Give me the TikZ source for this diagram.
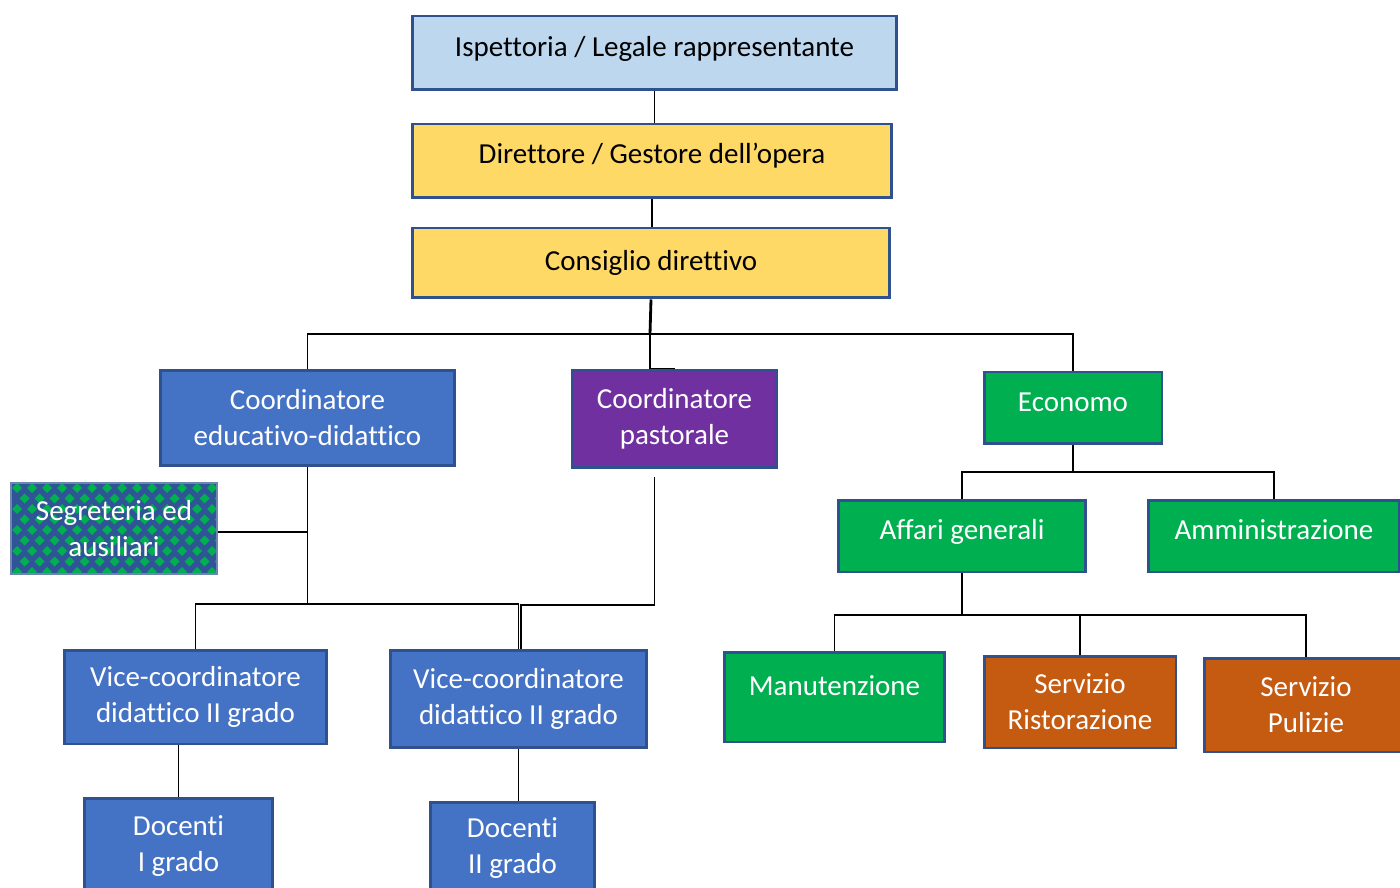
\documentclass[tikz,border=0pt]{standalone}
\usepackage{fontspec}
\setmainfont{Carlito}[Ligatures=NoCommon, Contextuals=NoAlternate]
\definecolor{myborder}{HTML}{2F528F}
\definecolor{mylightblue}{HTML}{BDD7EE}
\definecolor{myyellow}{HTML}{FFD966}
\definecolor{myblue}{HTML}{4472C4}
\definecolor{mypurple}{HTML}{7030A0}
\definecolor{mygreen}{HTML}{00B050}
\definecolor{myorange}{HTML}{C55A11}
\definecolor{segblue}{HTML}{2F5597}
\usetikzlibrary{positioning, calc}
\tikzset{
    box/.style={
           rectangle,
           draw=myborder, line width=1.7pt,
           inner sep=2pt,
           align=center,
           font=\fontsize{16.5}{20.5}\selectfont,
           },
    darkbox/.style={box, text=white},
    wh/.style 2 args={minimum width=#1cm, minimum height=#2cm},
    link/.style={draw=black, line width=0.8pt},
    checked/.style={
           path picture={
             \fill[segblue] (path picture bounding box.south west) rectangle (path picture bounding box.north east);
             \foreach \i in {0,...,14}
               \foreach \j in {0,...,9} {
                 \pgfmathsetmacro\dx{\i*15+mod(\j,2)*7.5+6}
                 \pgfmathsetmacro\dy{\j*10.5+5}
                 \fill[mygreen] ([shift={(\dx,\dy)}]path picture bounding box.north west)
                   +(-5,0) -- +(0,-5) -- +(5,0) -- +(0,5) -- cycle;
               }
           }},
}

\begin{document}
\begin{tikzpicture}[x=0.02cm, y=-0.02cm]
  \clip (0,0) rectangle (1400,888);
  % top of the chart
  \node[box, fill=mylightblue, wh={9.7}{1.48}, text depth=0.28cm] (insp) at (654.5, 53) {Ispettoria / Legale rappresentante};
  \node[box, fill=myyellow, wh={9.6}{1.48}, text depth=0.3cm]     (dir)  at (652, 161)  {Direttore / Gestore dell’opera};
  \node[box, fill=myyellow, wh={9.56}{1.4}]      (cons)   at (651, 263)  {Consiglio direttivo};
  % second level
  \node[darkbox, fill=myblue, wh={5.9}{1.92}]    (coored) at (307.5, 418) {Coordinatore\\educativo-didattico};
  \node[darkbox, fill=mypurple, wh={4.1}{1.96}]  (coorpa) at (674.5, 419) {Coordinatore\\pastorale};
  \node[darkbox, fill=mygreen, wh={3.56}{1.44}, text depth=0.24cm] (econ) at (1073, 408) {Economo};
  \node[darkbox, checked, draw=myborder!70, line width=1pt, wh={4.12}{1.82}] (segr) at (114, 528.5) {Segreteria ed\\ausiliari};
  \node[darkbox, fill=mygreen, wh={4.96}{1.44}, text depth=0.28cm] (affari) at (962, 536)  {Affari generali};
  \node[darkbox, fill=mygreen, wh={5.04}{1.44}, text depth=0.24cm] (amm)    at (1274, 536) {Amministrazione};
  % third level
  \node[darkbox, fill=myblue, wh={5.26}{1.88}]   (vice1)  at (195.5, 697) {Vice-coordinatore\\didattico II grado};
  \node[darkbox, fill=myblue, wh={5.14}{1.96}]   (vice2)  at (518.5, 699) {Vice-coordinatore\\didattico II grado};
  \node[darkbox, fill=mygreen, wh={4.42}{1.8}, text depth=0.44cm] (manut) at (834.5, 697) {Manutenzione};
  \node[darkbox, fill=myorange, wh={3.84}{1.84}] (risto)  at (1080, 702) {Servizio\\Ristorazione};
  \node[darkbox, fill=myorange, wh={4.08}{1.88}] (puliz)  at (1306, 705) {Servizio\\Pulizie};
  \node[darkbox, fill=myblue, wh={3.78}{1.92}]   (doc1)   at (178.5, 846) {Docenti\\I grado};
  \node[darkbox, fill=myblue, wh={3.3}{1.84}]    (doc2)   at (512.5, 848) {Docenti\\II grado};

  % junctions
  \coordinate (jc)  at (650, 334);
  \coordinate (je)  at (307.5, 604);
  \coordinate (jp)  at (654, 605);
  \coordinate (jec) at (1073, 472);
  \coordinate (jaf) at (962, 615);

  % connectors
  \draw[link] (insp.south) -- (insp.south |- dir.north);
  \draw[link] (dir.south) -- (dir.south |- cons.north);
  \draw[link, line width=1.6pt] (cons.south) -- (jc);
  \draw[link] (coored.north) |- (jc) -| (econ.north);
  \draw[link] (jc) |- (coorpa.north);
  \draw[link] (coored.south) -- (je);
  \draw[link] (vice1.north) |- (je) -| (vice2.north);
  \draw[link] ([yshift=-0.07cm]segr.east) -- ([yshift=-0.07cm]segr.east -| je);
  \draw[link] ([shift={(-20,8)}]coorpa.south) |- (jp) -| ([xshift=0.05cm]vice2.north);
  \draw[link] (doc1.north) -- (doc1.north |- vice1.south);
  \draw[link] (vice2.south) -- (vice2.south |- doc2.north);
  \draw[link] (econ.south) -- (jec);
  \draw[link] (affari.north) |- (jec) -| (amm.north);
  \draw[link] (affari.south) -- (jaf);
  \draw[link] (manut.north) |- (jaf) -| (puliz.north);
  \draw[link] (jaf) -| (risto.north);
\end{tikzpicture}
\end{document}
